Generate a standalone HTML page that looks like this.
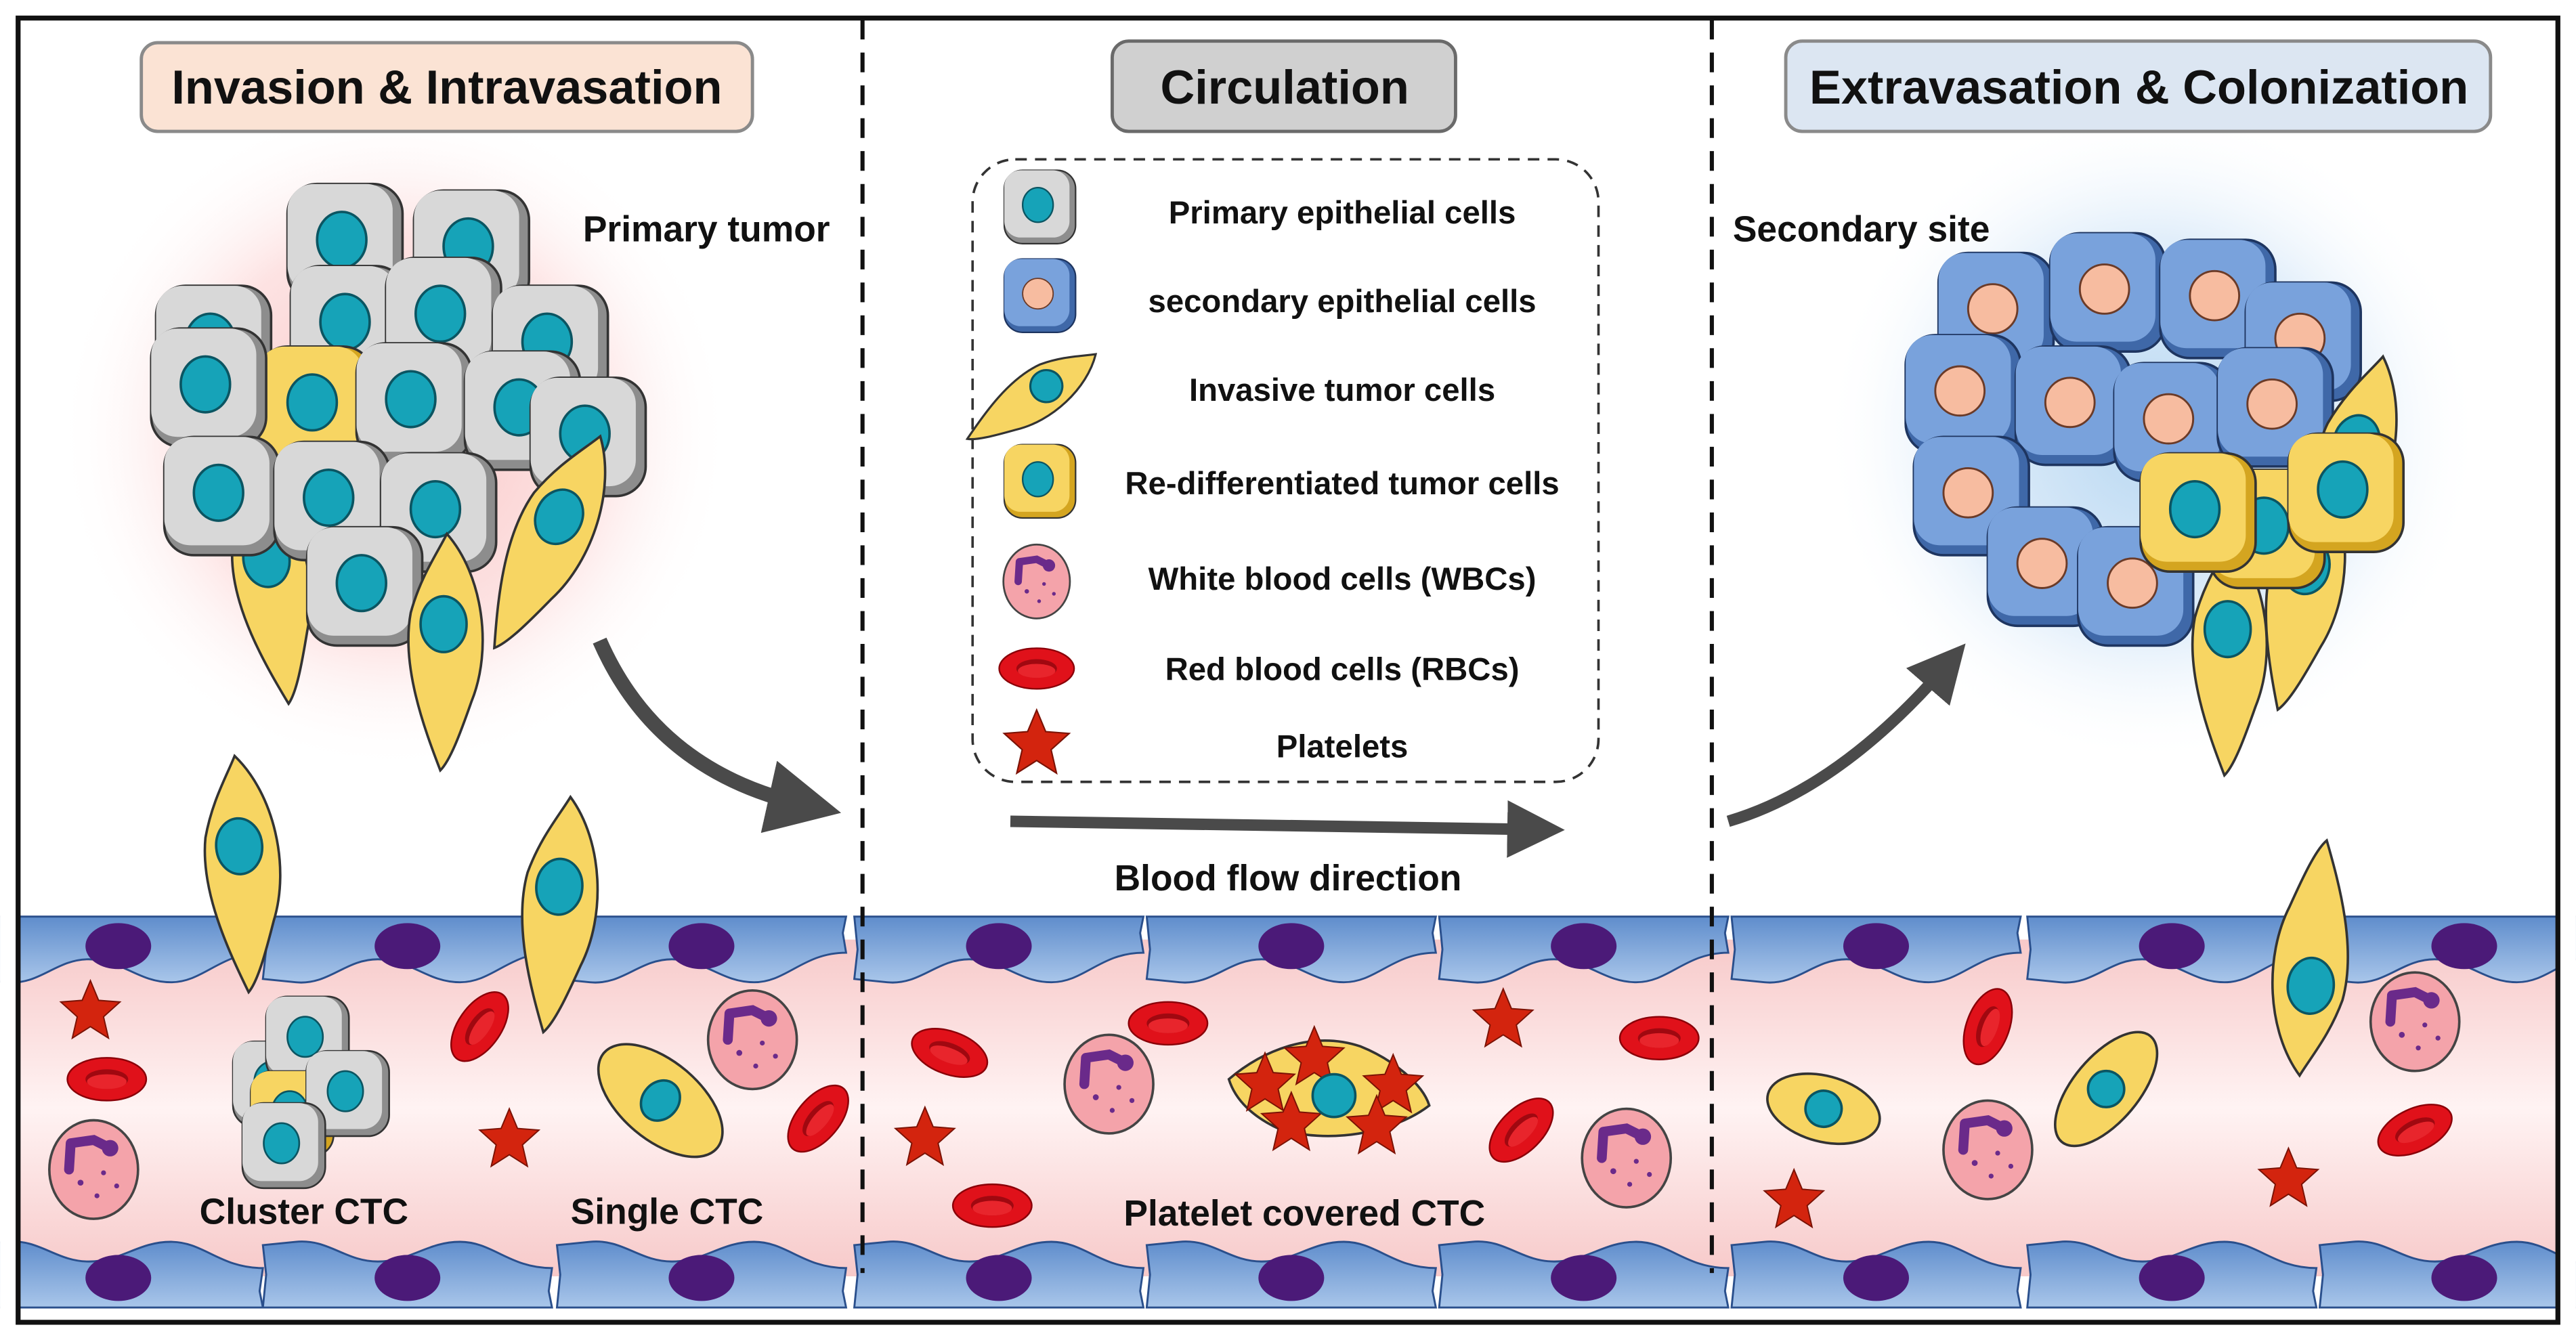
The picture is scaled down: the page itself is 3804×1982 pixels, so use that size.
<!DOCTYPE html>
<html><head><meta charset="utf-8">
<style>
html,body{margin:0;padding:0;background:#fff;width:3804px;height:1982px;overflow:hidden}
svg{display:block}
text{font-family:"Liberation Sans",Arial,sans-serif;font-weight:bold;fill:#111}
</style></head>
<body>
<svg width="3804" height="1982" viewBox="0 0 1568 817" xmlns="http://www.w3.org/2000/svg">
<defs>
<radialGradient id="gp" cx="0.5" cy="0.5" r="0.5"><stop offset="0" stop-color="#f9c6c6"/><stop offset="0.6" stop-color="#fde3e3"/><stop offset="1" stop-color="#fff" stop-opacity="0"/></radialGradient>
<radialGradient id="gb" cx="0.5" cy="0.5" r="0.5"><stop offset="0" stop-color="#b9d8f2"/><stop offset="0.6" stop-color="#e1eefa"/><stop offset="1" stop-color="#fff" stop-opacity="0"/></radialGradient>
<linearGradient id="lum" x1="0" y1="0" x2="0" y2="1"><stop offset="0" stop-color="#f7c9c9"/><stop offset="0.5" stop-color="#fff3f3"/><stop offset="1" stop-color="#f7c9c9"/></linearGradient>
<linearGradient id="endo" x1="0" y1="0" x2="0" y2="1"><stop offset="0" stop-color="#5f8dcc"/><stop offset="1" stop-color="#a9c6ea"/></linearGradient>
<g id="gc"><rect x="-35" y="-36" width="70" height="72" rx="18" fill="#8d8d8d" stroke="#333" stroke-width="1.5"/><rect x="-35" y="-36" width="64" height="66" rx="16" fill="#d8d8d8"/><ellipse cx="-2" cy="-2" rx="15" ry="17" fill="#16a3b8" stroke="#0b5562" stroke-width="1.5"/></g>
<g id="bc"><rect x="-35" y="-36" width="70" height="72" rx="18" fill="#3f68a8" stroke="#1e3560" stroke-width="1.5"/><rect x="-35" y="-36" width="64" height="66" rx="16" fill="#79a2dc"/><circle cx="-2" cy="-2" r="15" fill="#f7bca0" stroke="#6b3b28" stroke-width="1.2"/></g>
<g id="yc"><rect x="-35" y="-36" width="70" height="72" rx="18" fill="#d4a520" stroke="#333" stroke-width="1.5"/><rect x="-35" y="-36" width="64" height="66" rx="16" fill="#f7d562"/><ellipse cx="-2" cy="-2" rx="15" ry="17" fill="#16a3b8" stroke="#0b5562" stroke-width="1.5"/></g>
<g id="sp"><path d="M0,-60 C22,-35 28,10 15,42 C8,62 2,78 -4,84 C-14,58 -28,20 -22,-12 C-16,-34 -6,-48 0,-60Z" fill="#f7d562" stroke="#333" stroke-width="1.5"/><ellipse cx="-2" cy="-5" rx="14" ry="17" fill="#16a3b8" stroke="#0b5562" stroke-width="1.5"/></g>
<g id="wbc"><ellipse rx="27" ry="30" fill="#f4a3aa" stroke="#444" stroke-width="1.5"/><path d="M-14,-16 L0,-18 L8,-14 M-14,-16 L-15,0" stroke="#6a2a8a" stroke-width="6" fill="none" stroke-linecap="round"/><circle cx="10" cy="-13" r="5" fill="#6a2a8a"/><circle cx="-8" cy="8" r="1.8" fill="#6a2a8a"/><circle cx="6" cy="2" r="1.5" fill="#6a2a8a"/><circle cx="2" cy="16" r="1.5" fill="#6a2a8a"/><circle cx="14" cy="10" r="1.5" fill="#6a2a8a"/></g>
<g id="rbc"><ellipse rx="24" ry="13" fill="#e0111a" stroke="#8a0008" stroke-width="1"/><ellipse rx="13" ry="6" fill="#a00810"/><ellipse cx="0" cy="1.5" rx="12" ry="4.5" fill="#e8252c"/></g>
<path id="st" d="M0,-18 L5,-6 L18,-5 L8,4 L11,17 L0,10 L-11,17 L-8,4 L-18,-5 L-5,-6Z" fill="#d3240e" stroke="#7a1205" stroke-width="0.8"/>
<g id="ec"><path d="M0,0 L176,0 L174,10 L176,22 C150,22 140,40 120,40 C100,40 90,26 70,26 C50,26 40,42 20,40 L0,38 L2,20Z" fill="url(#endo)" stroke="#2a4f8c" stroke-width="1.2"/><ellipse cx="88" cy="18" rx="20" ry="14" fill="#4b1a78"/></g>
<g id="ecb"><path d="M0,40 L176,40 L174,30 L176,16 C150,16 140,0 120,0 C100,0 90,12 70,12 C50,12 40,-2 20,0 L0,2 L2,20Z" fill="url(#endo)" stroke="#2a4f8c" stroke-width="1.2"/><ellipse cx="88" cy="22" rx="20" ry="14" fill="#4b1a78"/></g>
<marker id="ah" viewBox="0 0 10 10" refX="5" refY="5" markerWidth="5" markerHeight="5" orient="auto"><path d="M0,0 L10,5 L0,10Z" fill="#4a4a4a"/></marker>
</defs>

<rect width="1568" height="817" fill="#fff"/>
<circle cx="240" cy="265" r="205" fill="url(#gp)"/>
<circle cx="1310" cy="265" r="200" fill="url(#gb)"/>

<!-- vessel -->
<rect x="12" y="572" width="1544" height="205" fill="url(#lum)"/>
<g>
<use href="#ec" x="-16" y="558"/><use href="#ec" x="160" y="558"/><use href="#ec" x="339" y="558"/><use href="#ec" x="520" y="558"/><use href="#ec" x="698" y="558"/><use href="#ec" x="876" y="558"/><use href="#ec" x="1054" y="558"/><use href="#ec" x="1234" y="558"/><use href="#ec" x="1412" y="558"/>
<use href="#ecb" x="-16" y="756"/><use href="#ecb" x="160" y="756"/><use href="#ecb" x="339" y="756"/><use href="#ecb" x="520" y="756"/><use href="#ecb" x="698" y="756"/><use href="#ecb" x="876" y="756"/><use href="#ecb" x="1054" y="756"/><use href="#ecb" x="1234" y="756"/><use href="#ecb" x="1412" y="756"/>
</g>
<rect x="0" y="550" width="12" height="260" fill="#fff"/>
<rect x="1556" y="550" width="12" height="260" fill="#fff"/>

<!-- primary tumor -->
<g>
<use href="#gc" x="210" y="148"/><use href="#gc" x="287" y="152"/>
<use href="#gc" x="130" y="210"/><use href="#gc" x="212" y="198"/><use href="#gc" x="270" y="193"/><use href="#gc" x="335" y="210"/>
<use href="#yc" x="192" y="247"/><use href="#gc" x="252" y="245"/><use href="#gc" x="318" y="250"/><use href="#gc" x="358" y="266"/>
<use href="#gc" x="127" y="236"/>
<use href="#sp" x="165" y="345" transform="rotate(-10 165 345)"/>
<use href="#sp" x="340" y="320" transform="rotate(25 340 320)"/>
<use href="#gc" x="135" y="302"/><use href="#gc" x="202" y="305"/><use href="#gc" x="267" y="312"/>
<use href="#gc" x="222" y="357"/>
<use href="#sp" x="272" y="385"/>
</g>
<!-- secondary -->
<g>
<use href="#bc" x="1215" y="190"/><use href="#bc" x="1283" y="178"/><use href="#bc" x="1350" y="182"/><use href="#bc" x="1402" y="208"/>
<use href="#bc" x="1195" y="240"/><use href="#bc" x="1262" y="247"/><use href="#bc" x="1322" y="257"/><use href="#bc" x="1385" y="248"/>
<use href="#sp" x="1435" y="275" transform="rotate(15 1435 275)"/>
<use href="#bc" x="1200" y="302"/><use href="#bc" x="1245" y="345"/><use href="#bc" x="1300" y="357"/>
<use href="#sp" x="1405" y="350" transform="rotate(10 1405 350)"/>
<use href="#sp" x="1358" y="388"/>
<use href="#yc" x="1380" y="322"/><use href="#yc" x="1338" y="312"/><use href="#yc" x="1428" y="300"/>
</g>

<use href="#sp" x="148" y="520" transform="rotate(-5 148 520)"/>
<use href="#sp" x="342" y="545" transform="rotate(5 342 545)"/>
<use href="#sp" x="1405" y="595" transform="rotate(185 1405 595)"/>

<!-- lumen contents -->
<use href="#st" x="55" y="615"/><use href="#rbc" x="65" y="657"/><use href="#wbc" x="57" y="712"/>
<g transform="translate(185,660) scale(0.72) translate(-185,-660)">
<use href="#gc" x="160" y="660"/><use href="#gc" x="188" y="622"/><use href="#yc" x="175" y="685"/><use href="#gc" x="222" y="668"/><use href="#gc" x="168" y="712"/>
</g>
<use href="#rbc" x="292" y="625" transform="rotate(-55 292 625)"/>
<use href="#st" x="310" y="693"/>
<g transform="translate(402,670) rotate(40)"><ellipse rx="45" ry="24" fill="#f7d562" stroke="#333" stroke-width="1.5"/><ellipse cx="0" cy="0" rx="11" ry="13" fill="#16a3b8" stroke="#0b5562" stroke-width="1.5"/></g>
<use href="#wbc" x="458" y="633"/>
<use href="#rbc" x="498" y="681" transform="rotate(-50 498 681)"/>
<use href="#rbc" x="578" y="641" transform="rotate(20 578 641)"/>
<use href="#st" x="563" y="692"/>
<use href="#rbc" x="604" y="734"/>
<use href="#wbc" x="675" y="660"/>
<use href="#rbc" x="711" y="623"/>
<g transform="translate(808,665)"><path d="M-60,-8 C-40,-25 -10,-38 20,-28 C40,-20 58,-5 62,8 C40,25 0,32 -30,22 C-45,15 -56,5 -60,-8Z" fill="#f7d562" stroke="#333" stroke-width="1.5"/>
<use href="#st" x="-38" y="-6"/><use href="#st" x="-8" y="-22"/><use href="#st" x="40" y="-5"/><use href="#st" x="-22" y="18"/><use href="#st" x="30" y="20"/>
<circle cx="4" cy="2" r="13" fill="#16a3b8" stroke="#0b5562" stroke-width="1.5"/></g>
<use href="#st" x="915" y="620"/>
<use href="#rbc" x="1010" y="632"/>
<use href="#rbc" x="926" y="688" transform="rotate(-45 926 688)"/>
<use href="#wbc" x="990" y="705"/>
<g transform="translate(1110,675) rotate(15)"><ellipse rx="35" ry="20" fill="#f7d562" stroke="#333" stroke-width="1.5"/><circle r="11" fill="#16a3b8" stroke="#0b5562" stroke-width="1.5"/></g>
<use href="#rbc" x="1210" y="625" transform="rotate(-70 1210 625)"/>
<use href="#wbc" x="1210" y="700"/>
<use href="#st" x="1092" y="730"/>
<g transform="translate(1282,663) rotate(-50)"><ellipse rx="42" ry="20" fill="#f7d562" stroke="#333" stroke-width="1.5"/><circle r="11" fill="#16a3b8" stroke="#0b5562" stroke-width="1.5"/></g>
<use href="#wbc" x="1470" y="622"/>
<use href="#st" x="1393" y="717"/>
<use href="#rbc" x="1470" y="688" transform="rotate(-25 1470 688)"/>

<line x1="525" y1="12" x2="525" y2="775" stroke="#111" stroke-width="2.5" stroke-dasharray="12,8"/>
<line x1="1042" y1="12" x2="1042" y2="775" stroke="#111" stroke-width="2.5" stroke-dasharray="12,8"/>

<!-- titles -->
<rect x="86" y="26" width="372" height="54" rx="10" fill="#fbe3d4" stroke="#8a8a8a" stroke-width="2"/>
<text x="272" y="63" font-size="29" text-anchor="middle">Invasion &amp; Intravasation</text>
<rect x="677" y="25" width="209" height="55" rx="10" fill="#d0d0d0" stroke="#6a6a6a" stroke-width="2"/>
<text x="782" y="63" font-size="29" text-anchor="middle">Circulation</text>
<rect x="1087" y="25" width="429" height="55" rx="10" fill="#dce6f2" stroke="#8a8a8a" stroke-width="2"/>
<text x="1302" y="63" font-size="29" text-anchor="middle">Extravasation &amp; Colonization</text>

<text x="430" y="147" font-size="22" text-anchor="middle">Primary tumor</text>
<text x="1133" y="147" font-size="22" text-anchor="middle">Secondary site</text>

<!-- legend -->
<rect x="592" y="97" width="381" height="379" rx="26" fill="#fff" stroke="#333" stroke-width="1.5" stroke-dasharray="7,5"/>
<use href="#gc" x="633" y="126" transform="translate(633 126) scale(0.62) translate(-633 -126)"/>
<use href="#bc" x="633" y="180" transform="translate(633 180) scale(0.62) translate(-633 -180)"/>
<g transform="translate(635,238) rotate(55) scale(0.65)"><path d="M0,-60 C22,-35 28,10 15,42 C8,62 2,78 -4,84 C-14,58 -28,20 -22,-12 C-16,-34 -6,-48 0,-60Z" fill="#f7d562" stroke="#333" stroke-width="2"/><circle cx="-2" cy="-5" r="15" fill="#16a3b8" stroke="#0b5562" stroke-width="2"/></g>
<use href="#yc" x="633" y="293" transform="translate(633 293) scale(0.62) translate(-633 -293)"/>
<use href="#wbc" x="631" y="354" transform="translate(631 354) scale(0.75) translate(-631 -354)"/>
<use href="#rbc" x="631" y="407" transform="translate(631 407) scale(0.95) translate(-631 -407)"/>
<use href="#st" x="631" y="452" transform="translate(631 452) scale(1.1) translate(-631 -452)"/>
<g font-size="19.5" text-anchor="middle">
<text x="817" y="136">Primary epithelial cells</text>
<text x="817" y="190">secondary epithelial cells</text>
<text x="817" y="244">Invasive tumor cells</text>
<text x="817" y="301">Re-differentiated tumor cells</text>
<text x="817" y="359">White blood cells (WBCs)</text>
<text x="817" y="414">Red blood cells (RBCs)</text>
<text x="817" y="461">Platelets</text>
</g>

<path d="M365,390 Q400,470 490,490" fill="none" stroke="#4a4a4a" stroke-width="9" marker-end="url(#ah)"/>
<path d="M615,500 L935,505" fill="none" stroke="#4a4a4a" stroke-width="7" marker-end="url(#ah)"/>
<path d="M1052,500 Q1120,480 1185,405" fill="none" stroke="#4a4a4a" stroke-width="7" marker-end="url(#ah)"/>
<text x="784" y="542" font-size="22" text-anchor="middle">Blood flow direction</text>

<text x="185" y="745" font-size="22" text-anchor="middle">Cluster CTC</text>
<text x="406" y="745" font-size="22" text-anchor="middle">Single CTC</text>
<text x="794" y="746" font-size="22" text-anchor="middle">Platelet covered CTC</text>

<rect x="11" y="11" width="1546" height="794" fill="none" stroke="#111" stroke-width="3"/>
</svg>
</body></html>
